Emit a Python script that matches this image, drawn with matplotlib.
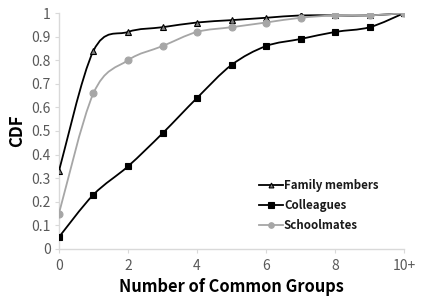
import numpy as np
import matplotlib.pyplot as plt
from matplotlib.path import Path
from matplotlib.patches import PathPatch
from matplotlib.lines import Line2D

# data
groups = [0, 1, 2, 3, 4, 5, 6, 7, 8, 9, 10]
family = [0.33, 0.84, 0.92, 0.94, 0.96, 0.97, 0.98, 0.99, 0.99, 0.99, 1.0]
colleagues = [0.05, 0.23, 0.35, 0.49, 0.64, 0.78, 0.86, 0.89, 0.92, 0.94, 1.0]
schoolmates = [0.15, 0.66, 0.80, 0.86, 0.92, 0.94, 0.96, 0.98, 0.99, 0.99, 1.0]
xtick_vals = [0, 2, 4, 6, 8, 10]
xtick_labels = ['0', '2', '4', '6', '8', '10+']
ytick_vals = [0, 0.1, 0.2, 0.3, 0.4, 0.5, 0.6, 0.7, 0.8, 0.9, 1.0]

plt.rcParams['font.family'] = ['Noto Sans CJK SC', 'DejaVu Sans']


def smooth_path(x, y):
    # Excel-style smoothed line: cubic bezier segments through the points
    x = np.asarray(x, float)
    y = np.asarray(y, float)
    n = len(x)
    verts = [(x[0], y[0])]
    codes = [Path.MOVETO]
    for i in range(n - 1):
        x0, y0 = (x[i - 1], y[i - 1]) if i > 0 else (x[i], y[i])
        x3, y3 = (x[i + 2], y[i + 2]) if i + 2 < n else (x[i + 1], y[i + 1])
        c1 = (x[i] + (x[i + 1] - x0) / 6, y[i] + (y[i + 1] - y0) / 6)
        c2 = (x[i + 1] - (x3 - x[i]) / 6, y[i + 1] - (y3 - y[i]) / 6)
        verts += [c1, c2, (x[i + 1], y[i + 1])]
        codes += [Path.CURVE4] * 3
    return Path(verts, codes)


fig = plt.figure(figsize=(4.21, 2.97), dpi=100)
ax = fig.add_axes([0.140, 0.162, 0.820, 0.794])

series = [
    (family, 'Family members', '#000000', '^', '#7f7f7f', '#000000', 4.5),
    (colleagues, 'Colleagues', '#000000', 's', '#000000', '#000000', 5),
    (schoolmates, 'Schoolmates', '#a6a6a6', 'o', '#a6a6a6', '#a6a6a6', 5),
]
handles = []
for vals, name, col, mk, fc, ec, ms in series:
    ax.add_patch(PathPatch(smooth_path(groups, vals), fill=False, edgecolor=col,
                           linewidth=1.3, zorder=2))
    ax.plot(groups, vals, linestyle='none', marker=mk, markersize=ms,
            markerfacecolor=fc, markeredgecolor=ec, markeredgewidth=0.8, zorder=3)
    handles.append(Line2D([], [], color=col, linewidth=1.3, marker=mk, markersize=ms - 1,
                          markerfacecolor=fc, markeredgecolor=ec, markeredgewidth=0.8,
                          label=name))

ax.set_xlim(0, 10)
ax.set_ylim(0, 1)
ax.set_xticks(xtick_vals)
ax.set_xticklabels(xtick_labels)
ax.set_yticks(ytick_vals)
ax.set_yticklabels(['0', '0.1', '0.2', '0.3', '0.4', '0.5', '0.6', '0.7', '0.8', '0.9', '1'])

for side in ['top', 'right']:
    ax.spines[side].set_visible(False)
for side in ['left', 'bottom']:
    ax.spines[side].set_color('#d9d9d9')
    ax.spines[side].set_linewidth(1.0)
    ax.spines[side].set_zorder(1)
ax.tick_params(colors='#d9d9d9', labelcolor='#595959', labelsize=10, length=3, width=0.8)
ax.tick_params(axis='x', pad=4)
ax.tick_params(axis='y', pad=3)

ax.set_xlabel('Number of Common Groups', fontsize=11.8, fontweight='bold', labelpad=4)
ax.set_ylabel('CDF', fontsize=12, fontweight='bold', labelpad=4)

leg = ax.legend(handles=handles, loc='upper left', bbox_to_anchor=(0.555, 0.33),
                frameon=False, fontsize=8.3, handlelength=2.1, handletextpad=0.1,
                labelspacing=0.6, borderpad=0.2)
for t in leg.get_texts():
    t.set_fontweight('bold')
    t.set_color('#1a1a1a')

fig.savefig('out.png', dpi=100)
